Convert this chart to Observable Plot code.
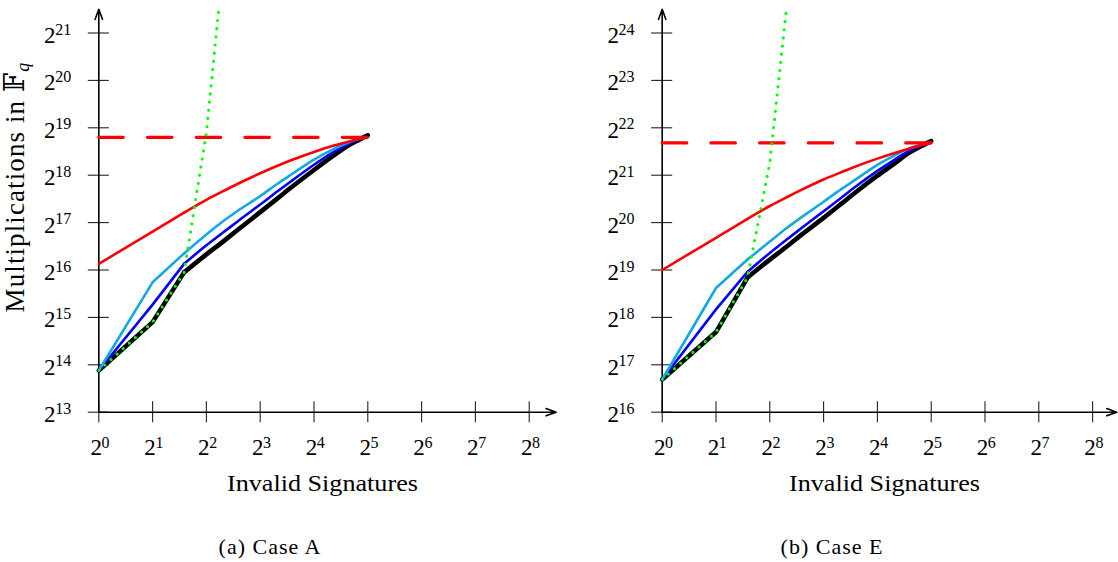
<!DOCTYPE html>
<html>
<head>
<meta charset="utf-8">
<script src="https://cdn.jsdelivr.net/npm/d3@7"></script>
<script src="https://cdn.jsdelivr.net/npm/@observablehq/plot@0.6"></script>
<style>
  html, body { margin: 0; padding: 0; background: #fff; width: 1118px; height: 562px; overflow: hidden; }
  body { position: relative; font-family: "Liberation Serif", "DejaVu Serif", serif; color: #000; }
  .panel { position: absolute; top: 0; }
  .ylabel { position: absolute; white-space: nowrap; font-size: 27px; line-height: 27px;
            transform: translate(-50%, -50%) rotate(-90deg); letter-spacing: 1.1px; }
  .ylabel sub { font-size: 18px; font-style: italic; vertical-align: -5px; }
  .caption { position: absolute; white-space: nowrap; font-size: 22px; line-height: 22px;
             transform: translateX(-50%); letter-spacing: 1px; }
</style>
</head>
<body>
<div id="panelA" class="panel" style="left:0px"></div>
<div id="panelE" class="panel" style="left:558px"></div>
<div class="ylabel" style="left:19px; top:187px">Multiplications in 𝔽<sub>q</sub></div>
<div class="caption" style="left:270px; top:536px">(a) Case A</div>
<div class="caption" style="left:832px; top:536px">(b) Case E</div>
<script>
// Number of invalid signatures in the batch
const invalidSignatures = [1, 2, 3, 4, 5, 6, 8, 10, 12, 16, 20, 24, 28, 32];
const greenSignatures = [1, 2, 3, 4, 5];

// log2 of the number of multiplications in F_q — Case A
const caseA_red   = [16.13, 16.81, 17.21, 17.48, 17.67, 17.82, 18.04, 18.20, 18.32, 18.49, 18.61, 18.69, 18.76, 18.80];
const caseA_cyan  = [13.88, 15.74, 16.35, 16.75, 17.04, 17.25, 17.56, 17.82, 18.02, 18.33, 18.53, 18.67, 18.76, 18.80];
const caseA_blue  = [13.88, 15.27, 16.13, 16.52, 16.80, 17.03, 17.38, 17.66, 17.88, 18.22, 18.46, 18.63, 18.74, 18.81];
const caseA_black = [13.88, 14.90, 15.95, 16.33, 16.61, 16.85, 17.22, 17.51, 17.75, 18.11, 18.38, 18.59, 18.73, 18.84];
const caseA_green = [13.88, 14.90, 15.95, 18.90, 22.55];
const caseA_individual = 18.80;

// log2 of the number of multiplications in F_q — Case E
const caseE_red   = [19.00, 19.68, 20.08, 20.35, 20.54, 20.69, 20.91, 21.06, 21.18, 21.35, 21.47, 21.56, 21.63, 21.68];
const caseE_cyan  = [16.69, 18.62, 19.22, 19.60, 19.89, 20.11, 20.44, 20.70, 20.90, 21.22, 21.42, 21.56, 21.64, 21.68];
const caseE_blue  = [16.69, 18.17, 18.96, 19.36, 19.65, 19.88, 20.24, 20.52, 20.75, 21.09, 21.33, 21.51, 21.62, 21.69];
const caseE_black = [16.69, 17.69, 18.84, 19.22, 19.50, 19.74, 20.10, 20.39, 20.63, 20.99, 21.25, 21.47, 21.61, 21.72];
const caseE_green = [16.69, 17.69, 18.84, 21.26, 24.65];
const caseE_individual = 21.68;

// Tick exponents
const xTickExps = [0, 1, 2, 3, 4, 5, 6, 7, 8];
const caseA_yTickExps = [13, 14, 15, 16, 17, 18, 19, 20, 21];
const caseE_yTickExps = [16, 17, 18, 19, 20, 21, 22, 23, 24];

const X_TITLE = "Invalid Signatures";
const COLORS = { red: "#ff0000", cyan: "#14a8e2", blue: "#0000ff", black: "#000000", green: "#00ff00" };

// Layout: pixels per power of two on each axis
const PX_X = 53.8, PX_Y = 47.4, AXIS_Y = 411.7, SVG_H = 500;

function rows(xs, exps) {
  return exps.map((e, i) => ({ n: xs[i], m: 2 ** e }));
}

// A series is drawn straight up to n = 3 and as a smooth curve from there on
function seriesMarks(exps, stroke, strokeWidth) {
  const data = rows(invalidSignatures, exps);
  const opts = { x: "n", y: "m", stroke, strokeWidth, strokeLinejoin: "round", strokeLinecap: "round" };
  return [
    Plot.line(data.filter((d) => d.n <= 3), { ...opts, curve: "linear" }),
    Plot.line(data.filter((d) => d.n >= 3), { ...opts, curve: "monotone-x" })
  ];
}

function panel({ width, marginLeft, xSpanExp, yTicks, red, cyan, blue, black, green, individual }) {
  const yLo = yTicks[0];
  const yTop = yLo + 8.5;
  const plotW = xSpanExp * PX_X;
  const plotH = (yTop - yLo) * PX_Y;
  const marginTop = AXIS_Y - plotH;
  const marginBottom = SVG_H - AXIS_Y;
  const marginRight = width - marginLeft - plotW;
  const nRange = d3.extent(invalidSignatures);
  const base = 2 ** yLo;

  const svg = Plot.plot({
    width, height: SVG_H,
    marginLeft, marginRight, marginTop, marginBottom,
    style: { fontFamily: '"Liberation Serif", "DejaVu Serif", serif', fontSize: "23px", color: "#000", background: "transparent", overflow: "visible" },
    x: { type: "log", base: 2, domain: [1, 2 ** xSpanExp], axis: null },
    y: { type: "log", base: 2, domain: [base, 2 ** yTop], axis: null },
    marks: [
      // tick marks crossing the axes
      Plot.tickX(xTickExps, { x: (d) => 2 ** d, insetTop: plotH - 10.5, insetBottom: -10.5, stroke: "#222", strokeWidth: 1.1 }),
      Plot.tickY(yTicks, { y: (d) => 2 ** d, insetLeft: -10.5, insetRight: plotW - 10.5, stroke: "#222", strokeWidth: 1.1 }),
      // axis lines with arrow heads
      Plot.arrow([0], { x1: () => 1, x2: () => 2 ** xSpanExp, y1: () => base, y2: () => base, stroke: "#000", strokeWidth: 1.6, headLength: 10, headAngle: 40 }),
      Plot.arrow([0], { x1: () => 1, x2: () => 1, y1: () => base, y2: () => 2 ** yTop, stroke: "#000", strokeWidth: 1.6, headLength: 10, headAngle: 40 }),
      // series
      ...seriesMarks(black, COLORS.black, 4.6),
      ...seriesMarks(blue, COLORS.blue, 2.6),
      ...seriesMarks(cyan, COLORS.cyan, 2.6),
      ...seriesMarks(red, COLORS.red, 2.6),
      Plot.line(nRange.map((n) => ({ n, m: 2 ** individual })), { x: "n", y: "m", stroke: COLORS.red, strokeWidth: 3.2, strokeDasharray: "24.5,24.2" }),
      Plot.line(rows(greenSignatures, green), { x: "n", y: "m", stroke: COLORS.green, strokeWidth: 3.2, strokeDasharray: "0,8.2", strokeLinecap: "round", clip: true }),
      // x tick labels: 2^k
      Plot.text(xTickExps, { x: (d) => 2 ** d, y: () => base, text: () => "2", textAnchor: "end", dx: 3.2, dy: 35.6, fontSize: 23 }),
      Plot.text(xTickExps, { x: (d) => 2 ** d, y: () => base, text: (d) => String(d), textAnchor: "start", dx: 2.8, dy: 30.5, fontSize: 16 }),
      // y tick labels: 2^k
      Plot.text(yTicks, { x: () => 1, y: (d) => 2 ** d, text: () => "2", textAnchor: "end", dx: -43.3, dy: 2.6, fontSize: 23 }),
      Plot.text(yTicks, { x: () => 1, y: (d) => 2 ** d, text: (d) => String(d), textAnchor: "start", dx: -43.6, dy: -3.5, fontSize: 16 }),
      // x axis title
      Plot.text([X_TITLE], { text: (d) => d, frameAnchor: "bottom", dx: -5, dy: 79, fontSize: 24 })
    ]
  });
  // widen the axis title to the spacing of the typeset original font
  d3.select(svg).selectAll("text")
    .filter(function () { return this.textContent === X_TITLE; })
    .attr("textLength", 191).attr("lengthAdjust", "spacingAndGlyphs");
  return svg;
}

document.getElementById("panelA").append(panel({
  width: 559, marginLeft: 98.3, xSpanExp: 8.5, yTicks: caseA_yTickExps,
  red: caseA_red, cyan: caseA_cyan, blue: caseA_blue, black: caseA_black, green: caseA_green, individual: caseA_individual
}));
document.getElementById("panelE").append(panel({
  width: 560, marginLeft: 103.7, xSpanExp: 8.45, yTicks: caseE_yTickExps,
  red: caseE_red, cyan: caseE_cyan, blue: caseE_blue, black: caseE_black, green: caseE_green, individual: caseE_individual
}));
</script>
</body>
</html>
